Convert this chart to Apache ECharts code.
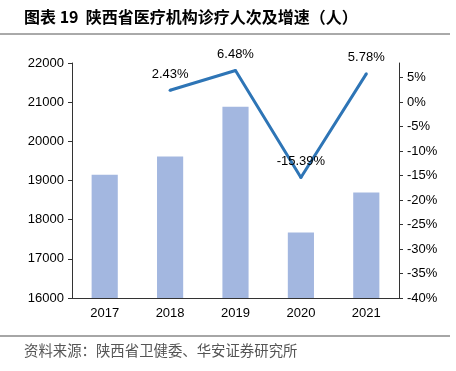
<!DOCTYPE html>
<html><head><meta charset="utf-8">
<script src="https://cdn.jsdelivr.net/npm/echarts@6/dist/echarts.min.js"></script>
<style>html,body{margin:0;padding:0;background:#fff;}#c{width:456px;height:371px;}</style>
</head><body><div id="c"></div>
<script>
const categories = ['2017','2018','2019','2020','2021'];
const visits = [19150, 19615, 20886, 17671, 18693];
const growth = [null, 2.43, 6.48, -15.39, 5.78];
const titleText = '图表 19  陕西省医疗机构诊疗人次及增速（人）';
const sourceText = '资料来源：陕西省卫健委、华安证券研究所';

const chart = echarts.init(document.getElementById('c'), null, {renderer:'canvas'});
const axisFont = {fontFamily:'Liberation Sans, Arial, sans-serif', fontSize:13, color:'#000'};
chart.setOption({
  animation:false,
  graphic:[
    {type:'text', left:24, top:9, style:{text:titleText, font:'bold 16px "Noto Sans CJK SC", sans-serif', fill:'#000'}},
    {type:'line', shape:{x1:0,y1:34,x2:450,y2:34}, style:{stroke:'#555', lineWidth:1}},
    {type:'line', shape:{x1:0,y1:336,x2:450,y2:336}, style:{stroke:'#888', lineWidth:1.5}},
    {type:'text', left:24, top:343, style:{text:sourceText, font:'14.4px "Noto Sans CJK SC", sans-serif', fill:'#555'}}
  ],
  grid:{left:72, right:57, top:63, bottom:73},
  xAxis:{type:'category', data:categories,
    axisLine:{onZero:false, lineStyle:{color:'#333'}}, axisTick:{show:false},
    axisLabel:Object.assign({margin:9}, axisFont)},
  yAxis:[
    {type:'value', min:16000, max:22000, interval:1000,
     axisLine:{show:true, lineStyle:{color:'#333'}}, axisTick:{show:true, length:4, lineStyle:{color:'#333'}},
     splitLine:{show:false}, axisLabel:Object.assign({margin:8, formatter:v=>String(v)}, axisFont)},
    {type:'value', min:-40, max:8, interval:5,
     axisLine:{show:true, lineStyle:{color:'#333'}}, axisTick:{show:true, length:4, lineStyle:{color:'#333'}},
     splitLine:{show:false},
     axisLabel:Object.assign({margin:8, showMaxLabel:false, formatter:v=>v+'%'}, axisFont)}
  ],
  series:[
    {type:'bar', data:visits, barWidth:'40%', itemStyle:{color:'#A3B7E0'}, yAxisIndex:0},
    {type:'line', data:growth, yAxisIndex:1, symbol:'circle', symbolSize:3, showSymbol:true, connectNulls:false,
     itemStyle:{color:'#2E75B6'},
     lineStyle:{color:'#2E75B6', width:3},
     label:{show:true, position:'top', distance:8,
       formatter:p=>(p.value==null?'':Number(p.value).toFixed(2)+'%'),
       fontFamily:'Liberation Sans, Arial, sans-serif', fontSize:13, color:'#000'}}
  ]
});
</script></body></html>
